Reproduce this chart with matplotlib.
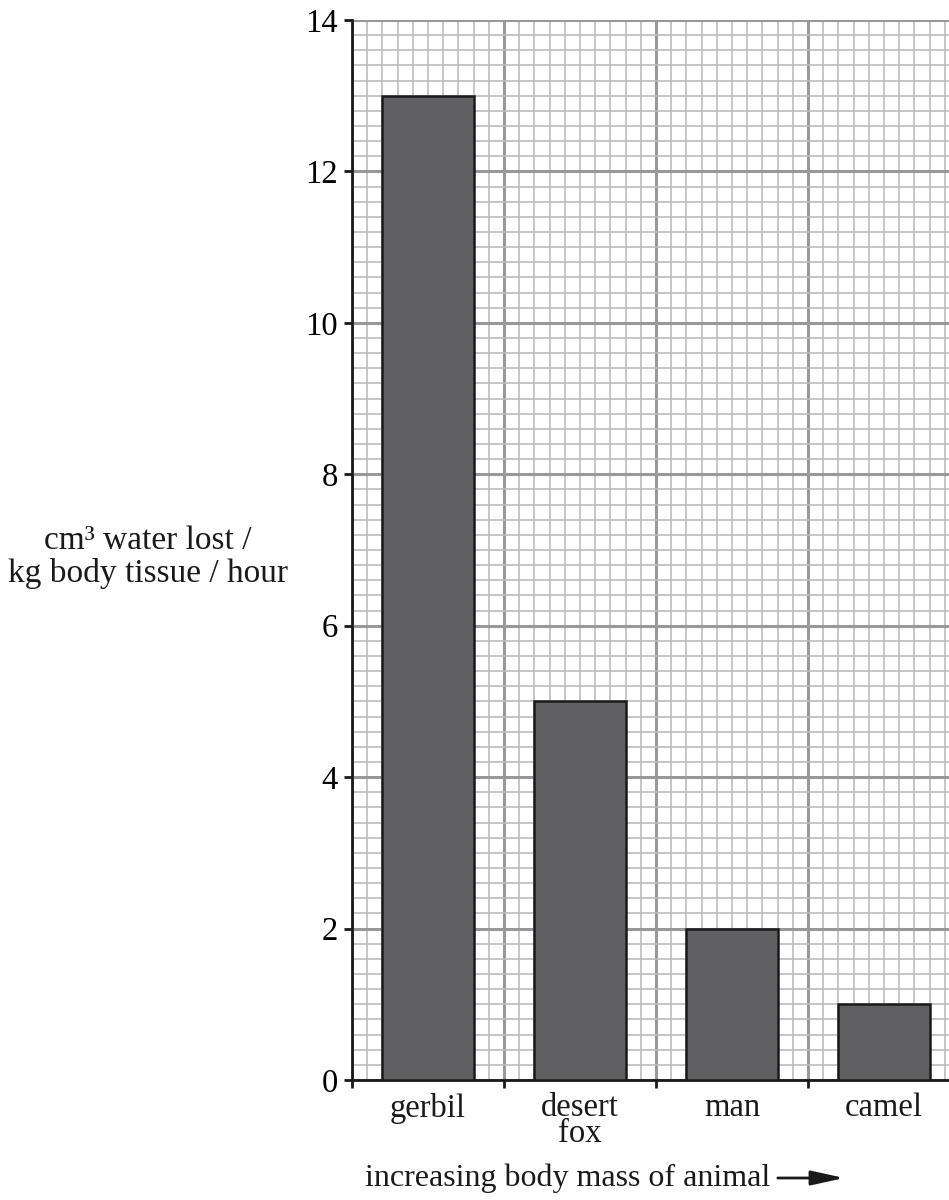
import numpy as np
import matplotlib
matplotlib.use("Agg")
import matplotlib.pyplot as plt
from matplotlib.ticker import MultipleLocator

ANIMALS = ["gerbil", "desert\nfox", "man", "camel"]
WATER_LOST = [13, 5, 2, 1]
Y_TICKS = [0, 2, 4, 6, 8, 10, 12, 14]

plt.rcParams['font.family'] = ['Liberation Serif', 'DejaVu Serif']

fig = plt.figure(figsize=(9.49, 12), dpi=100)
ax = fig.add_axes([352 / 949, 120 / 1200, 1 - 352 / 949, 1060 / 1200])

pos = np.arange(len(ANIMALS)) + 0.5
ax.bar(pos, WATER_LOST, width=0.6, color="#606062", edgecolor="#1a1a1a",
       linewidth=1.8, zorder=3)

ax.set_xlim(0, 597 / 152)
ax.set_ylim(0, 14)

ax.xaxis.set_major_locator(MultipleLocator(1))
ax.xaxis.set_minor_locator(MultipleLocator(0.1))
ax.set_yticks(Y_TICKS)
ax.yaxis.set_minor_locator(MultipleLocator(0.2))

ax.grid(which="major", color="#98989b", linewidth=2.2, zorder=0)
ax.grid(which="minor", color="#bcbcbf", linewidth=1.2, zorder=0)
ax.set_axisbelow(True)

ax.tick_params(which="minor", length=0)
ax.tick_params(which="major", direction="out", length=6, width=2,
               color="#1a1a1a", labelsize=23.5, pad=4)
ax.set_xticklabels([])

for s in ["top", "right"]:
    ax.spines[s].set_visible(False)
for s in ["left", "bottom"]:
    ax.spines[s].set_color("#1a1a1a")
    ax.spines[s].set_linewidth(2)

for x, name in zip(pos, ANIMALS):
    ax.text(x, -0.012, name, transform=ax.get_xaxis_transform(),
            ha="center", va="top", fontsize=23.5, linespacing=0.8,
            color="#1a1a1a")

fig.text(148 / 949, 1 - 557 / 1200, "cm³ water lost /\nkg body tissue / hour",
         ha="center", va="center", fontsize=24, linespacing=1.1,
         color="#1a1a1a")

fig.text(568 / 949, 1 - 1178 / 1200, "increasing body mass of animal",
         ha="center", va="center", fontsize=23, color="#1a1a1a")
fig.add_artist(matplotlib.patches.FancyArrowPatch(
    (775 / 949, 1 - 1178 / 1200), (847 / 949, 1 - 1178 / 1200),
    transform=fig.transFigure, arrowstyle="-|>,head_length=1.0,head_width=0.22",
    mutation_scale=20, color="#1a1a1a", linewidth=2))

fig.savefig("out.png", dpi=100)
